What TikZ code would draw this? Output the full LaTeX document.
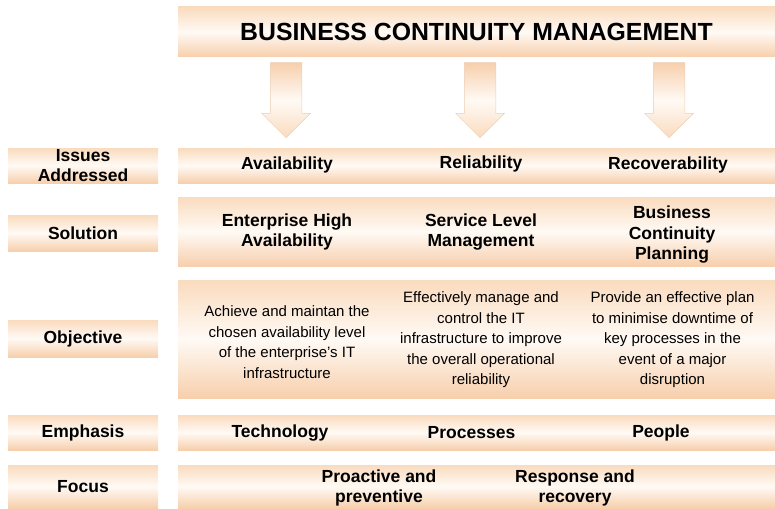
\documentclass[tikz,border=0pt]{standalone}
\usepackage{fontspec}
\setmainfont{Liberation Sans}
\usetikzlibrary{positioning,shapes.arrows}

\definecolor{peachtop}{RGB}{250,219,190}
\definecolor{peachmid}{RGB}{255,250,245}
\definecolor{peachbot}{RGB}{247,207,172}
\definecolor{arrowedge}{RGB}{236,206,180}

\newcommand\hdrfont{\fontsize{24.8}{30}\selectfont\bfseries}
\newcommand\lblfont{\fontsize{17.5}{20.5}\selectfont\bfseries}
\newcommand\txtfont{\fontsize{15}{20.5}\selectfont}

\begin{document}
\begin{tikzpicture}[x=1pt, y=-1pt,
    bar/.style = {inner sep=0pt, top color=peachtop, bottom color=peachbot, middle color=peachmid},
    rowbar/.style = {bar, minimum width=597pt},
    sidebar/.style = {bar, minimum width=150pt, font=\lblfont, align=center},
    lbl/.style = {font=\lblfont, align=center, inner sep=0pt},
    txt/.style = {font=\txtfont, align=center, inner sep=0pt},
    downarrow/.style = {single arrow, shape border rotate=270, minimum height=75pt,
        single arrow head extend=8.5pt, inner sep=15.5pt,
        draw=arrowedge, line width=0.5pt, top color=peachbot, bottom color=peachtop, middle color=peachmid}]
    \useasboundingbox (0,0) rectangle (775,508);

    \node [rowbar, minimum height=50pt, font=\hdrfont] (bcm) at (476.5,32) {BUSINESS CONTINUITY MANAGEMENT};
    \node [downarrow, anchor=tip] (arrA) at (286,138) {};
    \node [downarrow, anchor=tip] (arrB) at (480,138) {};
    \node [downarrow, anchor=tip] (arrC) at (669,138) {};

    \node [rowbar, minimum height=35pt] (issues) at (476.5,165.5) {};
    \node [rowbar, minimum height=69pt] (solution) at (476.5,231.5) {};
    \node [rowbar, minimum height=118pt] (objective) at (476.5,339) {};
    \node [rowbar, minimum height=35pt] (emphasis) at (476.5,432.5) {};
    \node [rowbar, minimum height=43pt] (focus) at (476.5,486.5) {};

    \node [sidebar, minimum height=35pt] (issuesL) at (83,165.5) {Issues\\Addressed};
    \node [sidebar, minimum height=36pt] (solutionL) at (83,233) {Solution};
    \node [sidebar, minimum height=37pt] (objectiveL) at (83,338.5) {Objective};
    \node [sidebar, minimum height=35pt] (emphasisL) at (83,432.5) {Emphasis};
    \node [sidebar, minimum height=43pt] (focusL) at (83,486.5) {Focus};

    \node [lbl] (availab) at (287,165) {Availability};
    \node [lbl] (reliab) at (481,164) {Reliability};
    \node [lbl] (recover) at (668,165) {Recoverability};

    \node [lbl] (ehaSol) at (287,232) {Enterprise High\\Availability};
    \node [lbl] (slmSol) at (481,232) {Service Level\\Management};
    \node [lbl] (bcpSol) at (672,235) {Business\\Continuity\\Planning};

    \node [txt] (ehaObj) at (287,342) {Achieve and maintan the\\chosen availability level\\of the enterprise's IT\\infrastructure};
    \node [txt] (slmObj) at (481,340) {Effectively manage and\\control the IT\\infrastructure to improve\\the overall operational\\reliability};
    \node [txt] (bcpObj) at (672.5,340) {Provide an effective plan\\to minimise downtime of\\key processes in the\\event of a major\\disruption};

    \node [lbl] (techn) at (280,433) {Technology};
    \node [lbl] (procs) at (471.5,433) {Processes};
    \node [lbl] (people) at (661,433) {People};

    \node [lbl] (proact) at (379,488) {Proactive and\\preventive};
    \node [lbl] (respons) at (575,488) {Response and\\recovery};
\end{tikzpicture}
\end{document}
